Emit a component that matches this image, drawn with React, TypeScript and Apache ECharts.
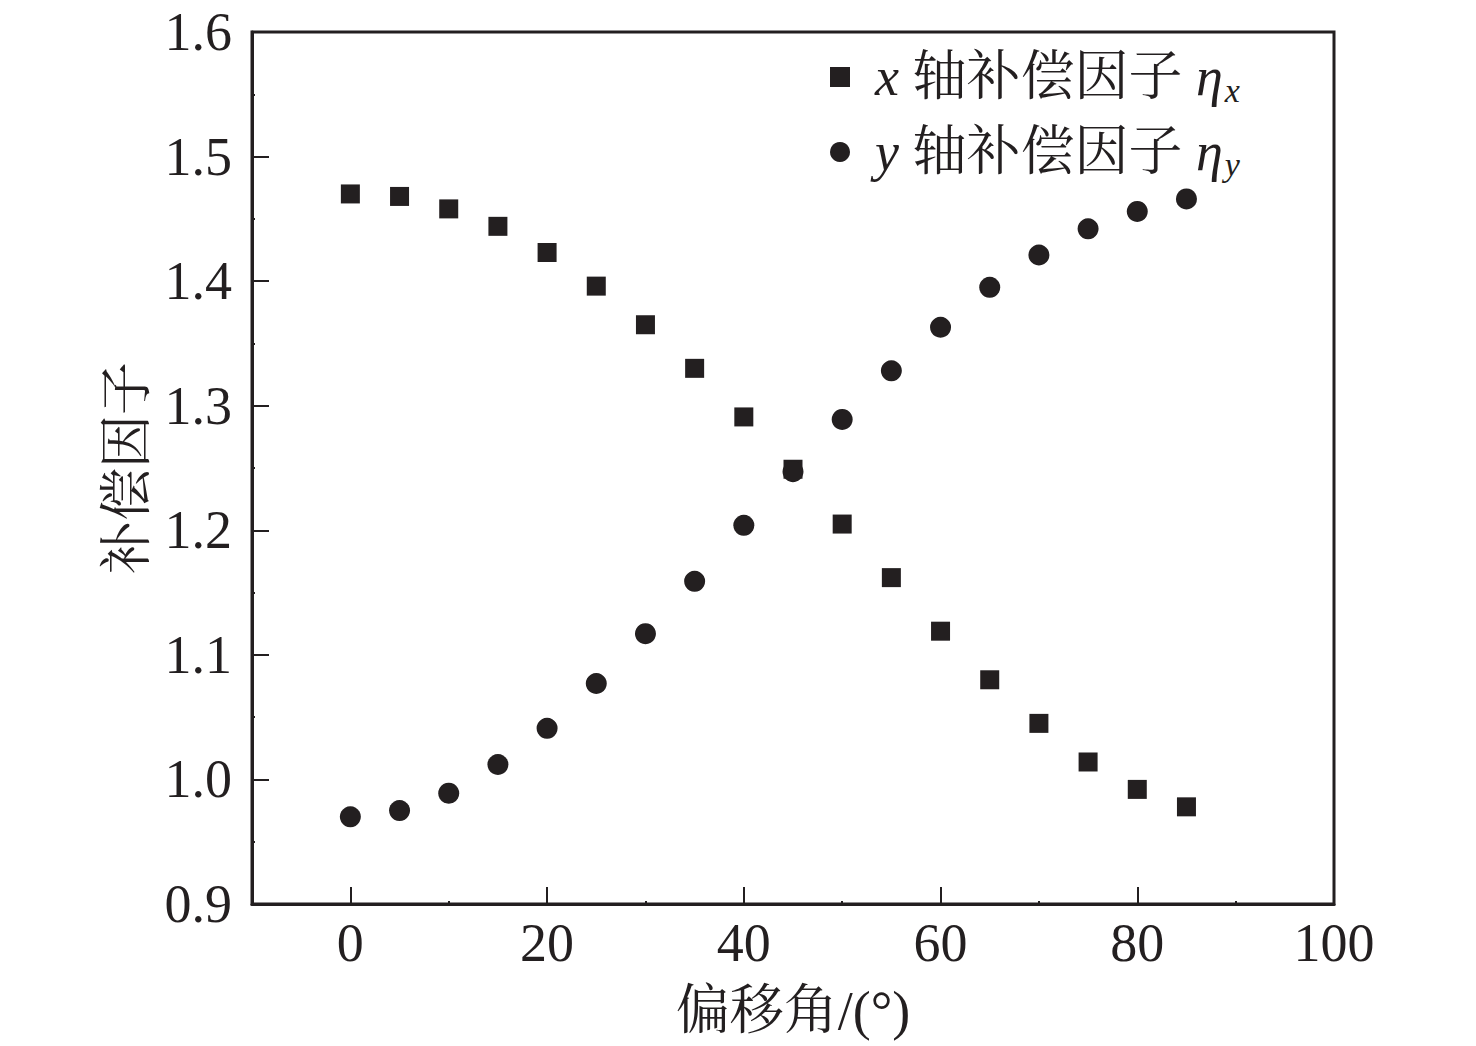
import React, { useEffect, useRef } from "react";
import * as echarts from "echarts";

const angles = [0, 5, 10, 15, 20, 25, 30, 35, 40, 45, 50, 55, 60, 65, 70, 75, 80, 85];
const etaX = [1.470, 1.468, 1.458, 1.444, 1.423, 1.396, 1.365, 1.330, 1.291, 1.249, 1.205, 1.162, 1.119, 1.080, 1.045, 1.014, 0.992, 0.978];
const etaY = [0.970, 0.975, 0.989, 1.012, 1.041, 1.077, 1.117, 1.159, 1.204, 1.247, 1.289, 1.328, 1.363, 1.395, 1.421, 1.442, 1.456, 1.466];
const xMajorTicks = [0, 20, 40, 60, 80, 100];
const xMinorTicks = [10, 30, 50, 70, 90];
const seriesNames = ["x 轴补偿因子 ηx", "y 轴补偿因子 ηy"];
const xName = "偏移角/(°)";
const yName = "补偿因子";

const FONT = '"Liberation Serif", "Times New Roman", "Noto Serif CJK SC", "Noto Sans CJK SC", serif';
const INK = "#231f20";

export default function App() {
  const ref = useRef<HTMLDivElement>(null);
  useEffect(() => {
    if (!ref.current) return;
    const chart = echarts.init(ref.current, undefined, { renderer: "svg" });
    chart.setOption({
      animation: false,
      backgroundColor: "#ffffff",
      grid: {
        left: 252,
        right: 142,
        top: 32,
        bottom: 142,
        show: true,
        borderColor: INK,
        borderWidth: 3,
        backgroundColor: "transparent",
      },
      legend: {
        orient: "vertical",
        left: 825,
        top: 42,
        itemWidth: 20,
        itemHeight: 20,
        itemGap: 15,
        data: [
          { name: seriesNames[0], icon: "rect" },
          { name: seriesNames[1], icon: "circle" },
        ],
        formatter: (name: string) =>
          name === seriesNames[0]
            ? "{i|x} 轴补偿因子 {i|η}{s|x}"
            : "{i|y} 轴补偿因子 {i|η}{s|y}",
        textStyle: {
          fontFamily: FONT,
          fontSize: 54,
          lineHeight: 56,
          color: INK,
          padding: [0, 0, 0, 20],
          rich: {
            i: { fontFamily: FONT, fontStyle: "italic", fontSize: 54, lineHeight: 56, color: INK },
            s: { fontFamily: FONT, fontStyle: "italic", fontSize: 34, lineHeight: 56, color: INK, padding: [26, 0, 0, 2] },
          },
        },
      },
      xAxis: [
        {
          type: "value",
          min: -10,
          max: 100,
          name: xName,
          nameLocation: "middle",
          nameGap: 80,
          nameTextStyle: { fontFamily: FONT, fontSize: 54, color: INK },
          axisLine: { show: true, onZero: false, lineStyle: { color: INK, width: 3 } },
          axisTick: { show: true, inside: true, length: 17, lineStyle: { color: INK, width: 2 }, customValues: xMajorTicks },
          axisLabel: { fontFamily: FONT, fontSize: 54, color: INK, margin: 12, customValues: xMajorTicks },
          splitLine: { show: false },
        },
        {
          type: "value",
          min: -10,
          max: 100,
          position: "bottom",
          axisLine: { show: false, onZero: false },
          axisTick: { show: true, inside: true, length: 3, lineStyle: { color: INK, width: 2 }, customValues: xMinorTicks },
          axisLabel: { show: false },
          splitLine: { show: false },
        },
      ],
      yAxis: {
        type: "value",
        min: 0.9,
        max: 1.6,
        interval: 0.1,
        name: yName,
        nameLocation: "middle",
        nameGap: 98,
        nameTextStyle: { fontFamily: FONT, fontSize: 53, color: INK },
        axisLine: { show: true, onZero: false, lineStyle: { color: INK, width: 3 } },
        axisTick: { show: true, inside: true, length: 17, lineStyle: { color: INK, width: 2 } },
        minorTick: { show: true, splitNumber: 2, length: 3, lineStyle: { color: INK, width: 2 } },
        axisLabel: {
          fontFamily: FONT,
          fontSize: 54,
          color: INK,
          margin: 20,
          formatter: (v: number) => v.toFixed(1),
        },
        splitLine: { show: false },
      },
      series: [
        {
          name: seriesNames[0],
          type: "scatter",
          symbol: "rect",
          symbolSize: 19,
          itemStyle: { color: INK, opacity: 1 },
          data: angles.map((a, i) => [a, etaX[i]]),
        },
        {
          name: seriesNames[1],
          type: "scatter",
          symbol: "circle",
          symbolSize: 21,
          itemStyle: { color: INK, opacity: 1 },
          data: angles.map((a, i) => [a, etaY[i]]),
        },
      ],
    });
    return () => chart.dispose();
  }, []);
  return (
    <div
      ref={ref}
      style={{ position: "fixed", left: 0, top: 0, width: 1476, height: 1046, background: "#fff" }}
    />
  );
}
